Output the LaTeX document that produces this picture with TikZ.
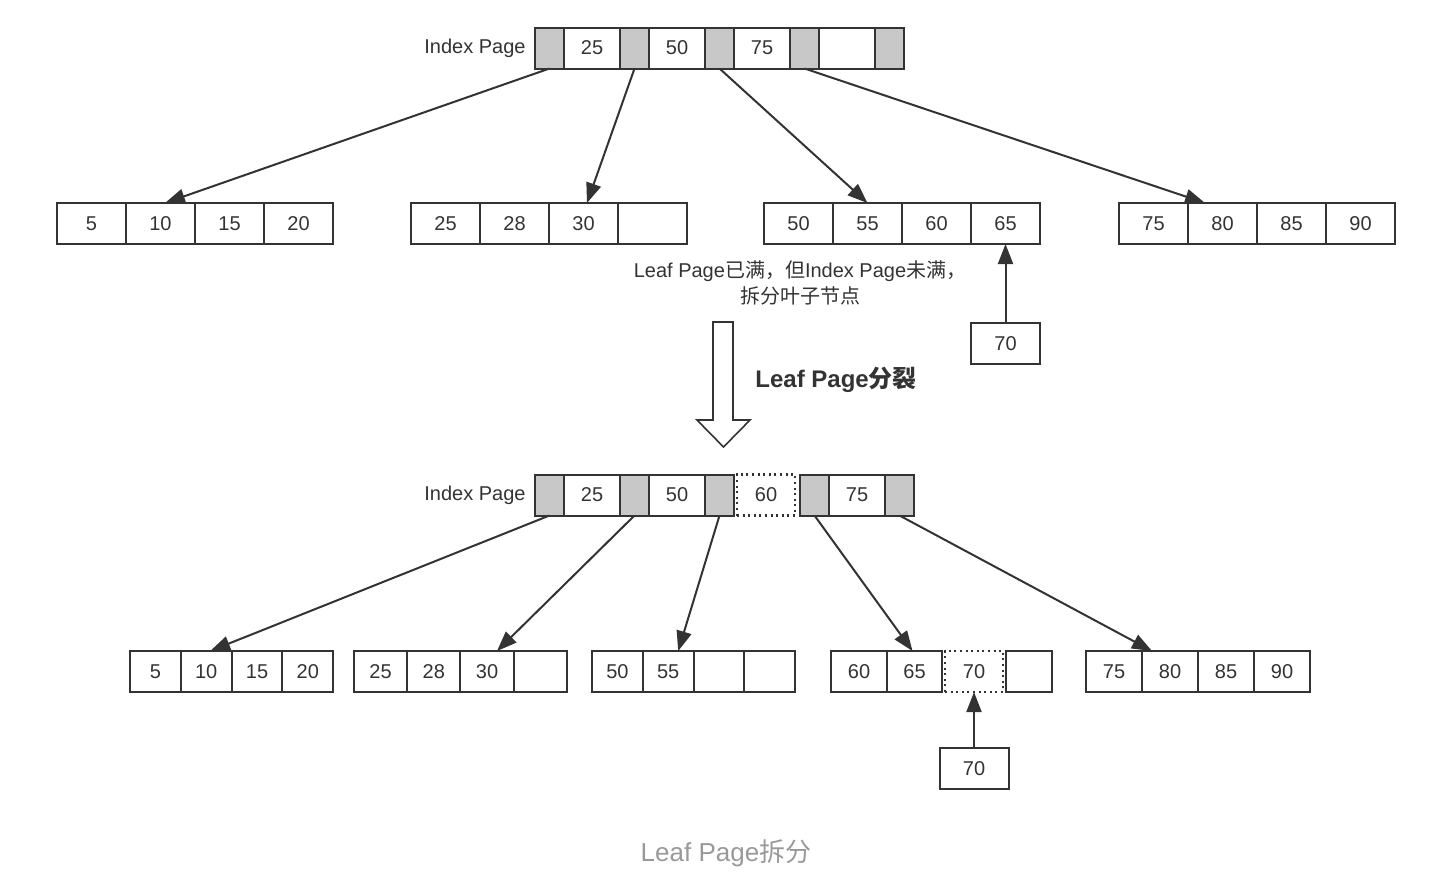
\documentclass[tikz,border=0pt]{standalone}
\usepackage{fontspec}
\setmainfont{Liberation Sans}
\newfontfamily\cjk{Noto Sans CJK SC}
\usetikzlibrary{positioning, arrows.meta}
\definecolor{inkc}{HTML}{333333}
\definecolor{ptrfill}{HTML}{C8C8C8}
\definecolor{capc}{HTML}{999999}

\begin{document}
\begin{tikzpicture}[
    x=0.5pt, y=-0.5pt,
    cell/.style={draw=inkc, line width=1pt, minimum height=20.5pt, inner sep=0pt, outer sep=0pt, text=inkc, font=\fontsize{10}{12}\selectfont},
    ptr/.style={cell, fill=ptrfill, minimum width=14.5pt},
    key/.style={cell, minimum width=28pt},
    leaf/.style={cell, minimum width=34.5pt},
    lowa/.style={cell, minimum width=25.4pt},
    lowb/.style={cell, minimum width=26.6pt},
    lowe/.style={cell, minimum width=28pt},
    newkey/.style={cell, dash pattern=on 1pt off 1.8pt, line width=1.2pt},
    lbl/.style={text=inkc, font=\fontsize{10}{13}\selectfont, inner sep=0pt},
    arrow/.style={-{Triangle[length=10pt, width=7.5pt]}, line width=1pt, draw=inkc}
]
\useasboundingbox (0,0) rectangle (1454,880);

% Top index page
\node[ptr, anchor=west] (tp0) at (535,48) {};
\node[key, right=0pt of tp0] (tk25) {25};
\node[ptr, right=0pt of tk25] (tp1) {};
\node[key, right=0pt of tp1] (tk50) {50};
\node[ptr, right=0pt of tk50] (tp2) {};
\node[key, right=0pt of tp2] (tk75) {75};
\node[ptr, right=0pt of tk75] (tp3) {};
\node[key, right=0pt of tp3] (tkx) {};
\node[ptr, right=0pt of tkx] (tp4) {};
\node[lbl, left=4.5pt of tp0] (tidx) {Index Page};

% Top leaf pages
\node[leaf, anchor=west] (ta5) at (57,223.5) {5};
\node[leaf, right=0pt of ta5] (ta10) {10};
\node[leaf, right=0pt of ta10] (ta15) {15};
\node[leaf, right=0pt of ta15] (ta20) {20};

\node[leaf, anchor=west] (tb25) at (411,223.5) {25};
\node[leaf, right=0pt of tb25] (tb28) {28};
\node[leaf, right=0pt of tb28] (tb30) {30};
\node[leaf, right=0pt of tb30] (tbx) {};

\node[leaf, anchor=west] (tc50) at (764,223.5) {50};
\node[leaf, right=0pt of tc50] (tc55) {55};
\node[leaf, right=0pt of tc55] (tc60) {60};
\node[leaf, right=0pt of tc60] (tc65) {65};

\node[leaf, anchor=west] (td75) at (1119,223.5) {75};
\node[leaf, right=0pt of td75] (td80) {80};
\node[leaf, right=0pt of td80] (td85) {85};
\node[leaf, right=0pt of td85] (td90) {90};

\node[leaf, below=39.5pt of tc65] (tins) {70};

\node[lbl, align=center] (note) at (800,283) {Leaf Page{\cjk 已满，但}Index Page{\cjk 未满，}\\{\cjk 拆分叶子节点}};

% Split arrow
\draw[line width=0.8pt, draw=inkc, fill=white] (713,322) -- (733,322) -- (733,420) -- (750,420)
    -- (723.5,447) -- (697,420) -- (713,420) -- cycle;
\node[lbl, font=\fontsize{12}{14}\selectfont\bfseries, anchor=west] (splitlbl) at (755,380) {Leaf Page{\cjk 分裂}};

% Bottom index page
\node[ptr, anchor=west] (bp0) at (535,495) {};
\node[key, right=0pt of bp0] (bk25) {25};
\node[ptr, right=0pt of bk25] (bp1) {};
\node[key, right=0pt of bp1] (bk50) {50};
\node[ptr, right=0pt of bk50] (bp2) {};
\node[newkey, minimum width=29pt, right=1.5pt of bp2] (bk60) {60};
\node[ptr, right=2.5pt of bk60] (bp3) {};
\node[key, right=0pt of bp3] (bk75) {75};
\node[ptr, right=0pt of bk75] (bp4) {};
\node[lbl, left=4.5pt of bp0] (bidx) {Index Page};

% Bottom leaf pages
\node[lowa, anchor=west] (ba5) at (130,671.5) {5};
\node[lowa, right=0pt of ba5] (ba10) {10};
\node[lowa, right=0pt of ba10] (ba15) {15};
\node[lowa, right=0pt of ba15] (ba20) {20};

\node[lowb, anchor=west] (bb25) at (354,671.5) {25};
\node[lowb, right=0pt of bb25] (bb28) {28};
\node[lowb, right=0pt of bb28] (bb30) {30};
\node[lowb, right=0pt of bb30] (bbx) {};

\node[lowa, anchor=west] (bc50) at (592,671.5) {50};
\node[lowa, right=0pt of bc50] (bc55) {55};
\node[lowa, right=0pt of bc55] (bcx) {};
\node[lowa, right=0pt of bcx] (bcy) {};

\node[cell, minimum width=28pt, anchor=west] (bd60) at (831,671.5) {60};
\node[cell, minimum width=27.5pt, right=0pt of bd60] (bd65) {65};
\node[newkey, minimum width=29pt, right=1.5pt of bd65] (bd70) {70};
\node[cell, minimum width=23pt, right=1.5pt of bd70] (bdx) {};

\node[lowe, anchor=west] (be75) at (1086,671.5) {75};
\node[lowe, right=0pt of be75] (be80) {80};
\node[lowe, right=0pt of be80] (be85) {85};
\node[lowe, right=0pt of be85] (be90) {90};

\node[leaf, below=28pt of bd70] (bins) {70};

\node[font=\fontsize{13}{15}\selectfont, text=capc] (caption) at (726,853) {Leaf Page{\cjk 拆分}};

% Connections
\draw[arrow] (tp0.south) -- ([xshift=2.25pt]ta10.north);
\draw[arrow] (tp1.south) -- ([xshift=1.75pt]tb30.north);
\draw[arrow] (tp2.south) -- (tc55.north);
\draw[arrow] (tp3.south) -- ([xshift=-8.75pt]td80.north);
\draw[arrow] (tins) -- (tc65);

\draw[arrow] (bp0.south) -- ([xshift=2pt]ba10.north);
\draw[arrow] (bp1.south) -- ([xshift=5pt]bb30.north);
\draw[arrow] (bp2.south) -- ([xshift=5pt]bc55.north);
\draw[arrow] (bp3.south) -- ([xshift=-1pt]bd65.north);
\draw[arrow] (bp4.south) -- ([xshift=-9pt]be80.north);
\draw[arrow] (bins) -- (bd70);

\end{tikzpicture}
\end{document}
